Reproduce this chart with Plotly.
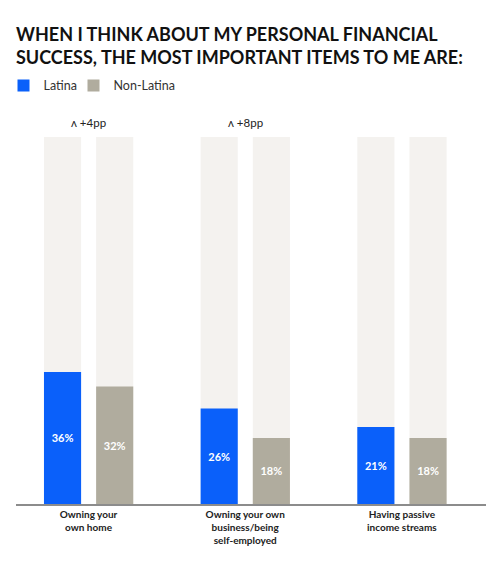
import plotly.graph_objects as go

categories = ["Owning your<br>own home", "Owning your own<br>business/being<br>self-employed", "Having passive<br>income streams"]
latina = [36, 26, 21]
non_latina = [32, 18, 18]
background = [100, 100, 100]
diff_labels = ["ʌ +4pp", "ʌ +8pp", ""]

BLUE = "#0A60FA"
GREY = "#B0AC9E"
BG = "#F4F2EF"
W = 0.237
OFF_A = -0.2845
OFF_B = 0.0485

fig = go.Figure()
fig.add_trace(go.Bar(x=categories, y=background, width=W, offset=OFF_A, marker=dict(color=BG, line_width=0),
                     showlegend=False, hoverinfo="skip"))
fig.add_trace(go.Bar(x=categories, y=background, width=W, offset=OFF_B, marker=dict(color=BG, line_width=0),
                     showlegend=False, hoverinfo="skip"))
fig.add_trace(go.Bar(x=categories, y=latina, width=W, offset=OFF_A, name="Latina",
                     marker=dict(color=BLUE, line_width=0),
                     text=[f"{v}%" for v in latina], textposition="inside", insidetextanchor="middle",
                     textfont=dict(color="white", size=11, family="Lato", weight="bold")))
fig.add_trace(go.Bar(x=categories, y=non_latina, width=W, offset=OFF_B, name="Non-Latina",
                     marker=dict(color=GREY, line_width=0),
                     text=[f"{v}%" for v in non_latina], textposition="inside", insidetextanchor="middle",
                     textfont=dict(color="white", size=11, family="Lato", weight="bold")))
# spacer entry so the compact legend does not clip the last label
fig.add_trace(go.Bar(x=[categories[0]], y=[0], width=0, name=" ", marker=dict(color="rgba(0,0,0,0)", line_width=0),
                     hoverinfo="skip", showlegend=True))

for c, t in zip(categories, diff_labels):
    if t:
        fig.add_annotation(x=c, y=1, xref="x", yref="paper", text=t, showarrow=False,
                           yanchor="bottom", yshift=6, font=dict(size=11.5, color="#222", family="Lato"))

fig.update_layout(
    width=500, height=580,
    margin=dict(l=16, r=14, t=137, b=76, autoexpand=False),
    barmode="overlay",
    plot_bgcolor="white", paper_bgcolor="white",
    title=dict(text="WHEN I THINK ABOUT MY PERSONAL FINANCIAL<br>SUCCESS, THE MOST IMPORTANT ITEMS TO ME ARE:",
               x=16/500, xanchor="left", y=1-41/580, yanchor="top", xref="container", yref="container",
               font=dict(size=18, color="#111", family="Lato", weight="bold")),
    legend=dict(orientation="h", x=-0.0266, xanchor="left", y=1.139, yanchor="middle",
                font=dict(size=12.5, color="#333", family="Lato"), traceorder="normal",
                entrywidth=25, entrywidthmode="pixels",
                itemclick=False, itemdoubleclick=False),
    showlegend=True,
    xaxis=dict(range=[-0.463, 2.537], showline=True, linecolor="#8C8C8C", linewidth=1.5,
               ticks="", tickfont=dict(size=10, color="#222", family="Lato", weight="bold"),
               showgrid=False, fixedrange=True),
    yaxis=dict(range=[0, 100], visible=False, showgrid=False, fixedrange=True),
    font=dict(family="Lato"),
)

fig.write_html("out.html")
